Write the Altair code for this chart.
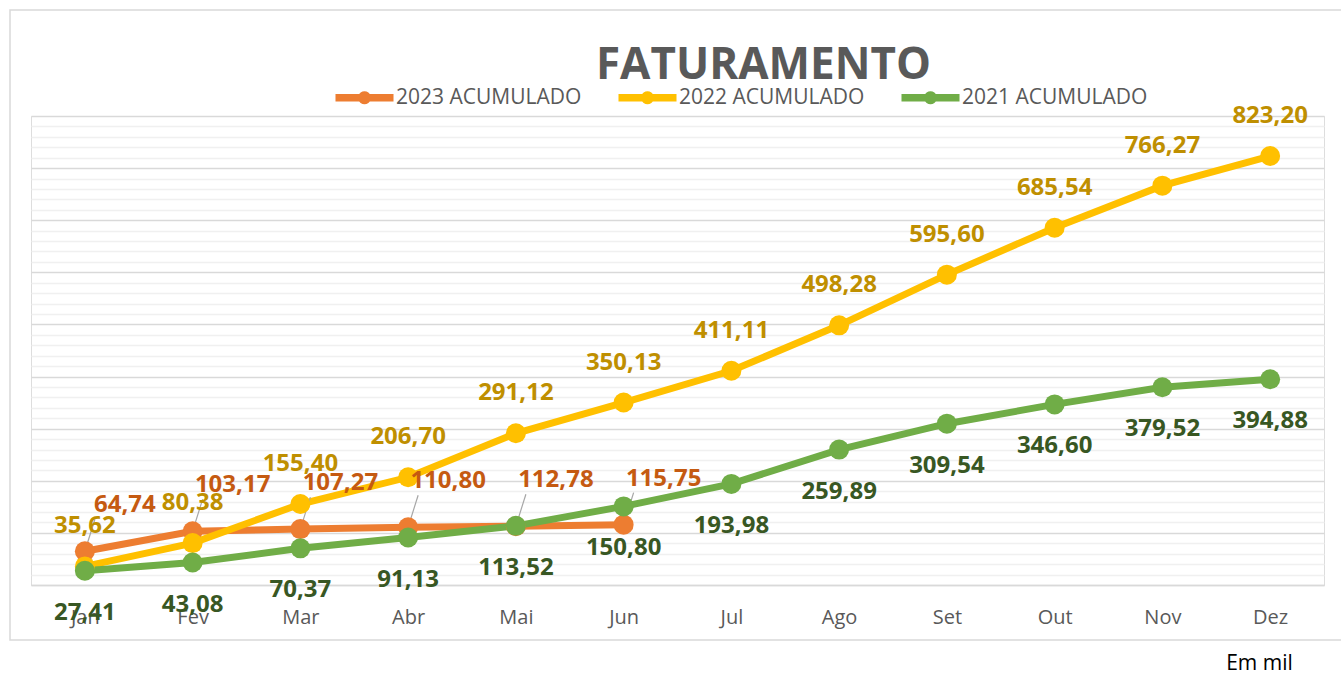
import math
import altair as alt
import pandas as pd

months = ["Jan", "Fev", "Mar", "Abr", "Mai", "Jun", "Jul", "Ago", "Set", "Out", "Nov", "Dez"]
series = ["2023 ACUMULADO", "2022 ACUMULADO", "2021 ACUMULADO"]
v2023 = [64.74, 103.17, 107.27, 110.80, 112.78, 115.75]
v2022 = [35.62, 80.38, 155.40, 206.70, 291.12, 350.13, 411.11, 498.28, 595.60, 685.54, 766.27, 823.20]
v2021 = [27.41, 43.08, 70.37, 91.13, 113.52, 150.80, 193.98, 259.89, 309.54, 346.60, 379.52, 394.88]
y_ticks = list(range(0, 901, 20))

line_colors = ["#ED7D31", "#FFC000", "#70AD47"]
label_colors = ["#C55A11", "#BF8F00", "#385723"]

rows = []
for s, vals in zip(series, [v2023, v2022, v2021]):
    for m, v in zip(months, vals):
        rows.append({"serie": s, "mes": m, "valor": v,
                     "rotulo": f"{v:.2f}".replace(".", ",")})
df = pd.DataFrame(rows)

FONT = "Open Sans"
W, H = 1293, 469
PL, PT = 31, 116

# legend symbol: a thick line with a dot in the middle (unit coordinates)
r = 0.68
poly = " ".join(
    ("M" if i == 0 else "L") + f"{r * math.cos(2 * math.pi * i / 20):.3f},{r * math.sin(2 * math.pi * i / 20):.3f}"
    for i in range(20)
)
legend_path = "M-3,-0.38 L3,-0.38 L3,0.38 L-3,0.38 Z " + poly + " Z"

x_enc = alt.X("mes:N", sort=months,
              scale=alt.Scale(type="point", padding=0.5),
              axis=alt.Axis(title="Em mil", titleX=1228, titleY=78,
                            titleAlign="center", titleBaseline="middle",
                            titleFont=FONT, titleFontSize=21, titleFontWeight="normal",
                            titleColor="#000000",
                            labelAngle=0, labelFont=FONT, labelFontSize=20,
                            labelColor="#595959", labelPadding=22,
                            ticks=False, domainColor="#D9D9D9", domainWidth=1.3,
                            grid=False))
y_enc = alt.Y("valor:Q", scale=alt.Scale(domain=[0, 900], nice=False, zero=True),
              axis=alt.Axis(values=y_ticks, labels=False, ticks=False, domain=False,
                            title=None, gridWidth=1.3,
                            gridColor={"condition": {"test": "datum.value % 100 === 0",
                                                     "value": "#D9D9D9"},
                                       "value": "#F0F0F0"}))
color_scale = alt.Scale(domain=series, range=line_colors)

base = alt.Chart(df)

border = alt.Chart(alt.Data(values=[{"a": 1}])).mark_rect(
    fill=None, stroke="#D9D9D9", strokeWidth=1.5
).encode(x=alt.value(10 - PL), x2=alt.value(1345 - PL),
         y=alt.value(10 - PT), y2=alt.value(640 - PT))

line_layers = [
    base.transform_filter(alt.datum.serie == s).mark_line(
        strokeWidth=7, strokeCap="round", color=c
    ).encode(x=x_enc, y=y_enc)
    for s, c in zip(series, line_colors)
]

leaders = base.transform_filter(alt.datum.serie == series[0]).mark_rule(
    color="#A6A6A6", strokeWidth=1.2, x2Offset=10, y2Offset=-32
).encode(x=x_enc, y=y_enc, x2=alt.X2("mes:N"), y2=alt.Y2("valor:Q"))

points = base.mark_circle(size=400, opacity=1).encode(
    x=x_enc, y=y_enc,
    color=alt.Color("serie:N", scale=color_scale,
                    legend=alt.Legend(orient="none", legendX=323, legendY=-29,
                                      direction="horizontal", title=None,
                                      symbolType=legend_path, symbolSize=374,
                                      symbolStrokeWidth=0, symbolOpacity=1,
                                      labelFont=FONT, labelFontSize=21,
                                      labelColor="#595959", labelOffset=21,
                                      labelLimit=400, columnPadding=36,
                                      padding=0)),
)

lab_orange = base.transform_filter(alt.datum.serie == series[0]).mark_text(
    font=FONT, fontSize=24, fontWeight="bold", color=label_colors[0],
    dx=40, dy=-46
).encode(x=x_enc, y=y_enc, text="rotulo:N")

lab_yellow = base.transform_filter(alt.datum.serie == series[1]).mark_text(
    font=FONT, fontSize=24, fontWeight="bold", color=label_colors[1],
    dy=-40
).encode(x=x_enc, y=y_enc, text="rotulo:N")

lab_green = base.transform_filter(alt.datum.serie == series[2]).mark_text(
    font=FONT, fontSize=24, fontWeight="bold", color=label_colors[2],
    dy=42
).encode(x=x_enc, y=y_enc, text="rotulo:N")

chart = alt.layer(border, *line_layers, leaders, points,
                  lab_orange, lab_yellow, lab_green).properties(
    width=W, height=H,
    title=alt.TitleParams("FATURAMENTO", font=FONT, fontSize=44, fontWeight="bold",
                          color="#595959", anchor="middle", frame="group",
                          dx=86, offset=-114, baseline="alphabetic"),
    autosize=alt.AutoSizeParams(type="none"),
    padding={"left": PL, "top": PT, "right": 1341 - PL - W, "bottom": 675 - PT - H},
).configure_view(stroke=None).configure(background="#FFFFFF")

chart.save("out.html", embed_options={"renderer": "svg", "actions": False})
